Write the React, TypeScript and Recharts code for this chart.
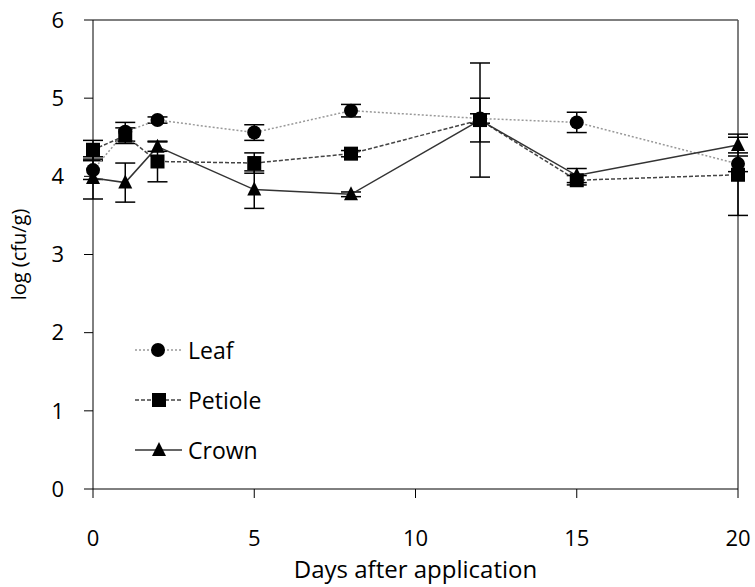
import React from "react";
import {
  LineChart,
  Line,
  XAxis,
  YAxis,
  ErrorBar,
  ReferenceLine,
} from "recharts";

const days = [0, 1, 2, 5, 8, 12, 15, 20];
const leaf = [4.08, 4.57, 4.72, 4.56, 4.84, 4.74, 4.69, 4.16];
const leafErr = [0.12, 0.12, 0.04, 0.1, 0.08, 0.06, 0.13, 0.1];
const petiole = [4.34, 4.52, 4.19, 4.17, 4.29, 4.72, 3.95, 4.02];
const petioleErr = [0.12, 0.1, 0.26, 0.13, 0.04, 0.28, 0.06, 0.52];
const crown = [3.98, 3.92, 4.38, 3.83, 3.77, 4.72, 4.01, 4.4];
const crownErr = [0.27, 0.25, 0.06, 0.24, 0.03, 0.73, 0.09, 0.1];
const xTicks = [0, 5, 10, 15, 20];
const yTicks = [0, 1, 2, 3, 4, 5, 6];

const data = days.map((d, i) => ({
  day: d,
  leaf: leaf[i],
  leafErr: leafErr[i],
  petiole: petiole[i],
  petioleErr: petioleErr[i],
  crown: crown[i],
  crownErr: crownErr[i],
}));

const FONT = "'Open Sans', 'Noto Sans', sans-serif";

const circleDot = (p: any) => (
  <circle key={`c${p.index}`} cx={p.cx} cy={p.cy} r={7} fill="#000" />
);
const squareDot = (p: any) => (
  <rect key={`s${p.index}`} x={p.cx - 7} y={p.cy - 7} width={14} height={14} fill="#000" />
);
const triangleDot = (p: any) => (
  <polygon
    key={`t${p.index}`}
    points={`${p.cx},${p.cy - 8} ${p.cx + 7},${p.cy + 6} ${p.cx - 7},${p.cy + 6}`}
    fill="#000"
  />
);

const legendItems = [
  { name: "Leaf", stroke: "#999", dash: "2 2", marker: "circle" },
  { name: "Petiole", stroke: "#444", dash: "4 2", marker: "square" },
  { name: "Crown", stroke: "#333", dash: undefined, marker: "triangle" },
];

function SeriesLegend() {
  return (
    <div style={{ position: "absolute", left: 135, top: 325, fontFamily: FONT }}>
      {legendItems.map((it) => (
        <div
          key={it.name}
          style={{ height: 50, display: "flex", alignItems: "center" }}
        >
          <svg width={53} height={20}>
            <line
              x1={0}
              y1={10}
              x2={47}
              y2={10}
              stroke={it.stroke}
              strokeWidth={1.5}
              strokeDasharray={it.dash}
            />
            {it.marker === "circle" && <circle cx={23} cy={10} r={7} fill="#000" />}
            {it.marker === "square" && <rect x={17} y={3} width={14} height={14} fill="#000" />}
            {it.marker === "triangle" && (
              <polygon points="24,2 31,16 17,16" fill="#000" />
            )}
          </svg>
          <span style={{ fontSize: 23, color: "#000", lineHeight: "50px" }}>{it.name}</span>
        </div>
      ))}
    </div>
  );
}

export default function App() {
  return (
    <div style={{ position: "absolute", left: 0, top: 0, width: 755, height: 587 }}>
      <LineChart
        width={755}
        height={587}
        data={data}
        margin={{ top: 20, right: 17, left: 5, bottom: 7 }}
      >
        <XAxis
          dataKey="day"
          type="number"
          domain={[0, 20]}
          ticks={xTicks}
          stroke="#000"
          tickSize={9}
          tickMargin={32}
          height={91}
          tick={{ fill: "#000", fontSize: 22, fontFamily: FONT }}
          label={{
            value: "Days after application",
            position: "insideBottom",
            offset: 2,
            style: { fill: "#000", fontSize: 24, fontFamily: FONT },
          }}
        />
        <YAxis
          domain={[0, 6]}
          ticks={yTicks}
          stroke="#000"
          tickSize={9}
          tickMargin={20}
          width={88}
          tick={{ fill: "#000", fontSize: 22, fontFamily: FONT }}
          label={{
            value: "log (cfu/g)",
            angle: -90,
            position: "insideLeft",
            offset: 14,
            style: { fill: "#000", fontSize: 20, fontFamily: FONT, textAnchor: "middle" },
          }}
        />
        <ReferenceLine y={6} stroke="#555" strokeWidth={1.5} />
        <ReferenceLine x={20} stroke="#555" strokeWidth={1.5} />
        <Line
          dataKey="leaf"
          stroke="#999"
          strokeWidth={1.5}
          strokeDasharray="2 2"
          dot={circleDot}
          isAnimationActive={false}
        >
          <ErrorBar dataKey="leafErr" width={10} stroke="#000" strokeWidth={1.5} direction="y" />
        </Line>
        <Line
          dataKey="petiole"
          stroke="#444"
          strokeWidth={1.5}
          strokeDasharray="4 2"
          dot={squareDot}
          isAnimationActive={false}
        >
          <ErrorBar dataKey="petioleErr" width={10} stroke="#000" strokeWidth={1.5} direction="y" />
        </Line>
        <Line
          dataKey="crown"
          stroke="#333"
          strokeWidth={1.5}
          dot={triangleDot}
          isAnimationActive={false}
        >
          <ErrorBar dataKey="crownErr" width={10} stroke="#000" strokeWidth={1.5} direction="y" />
        </Line>
      </LineChart>
      <SeriesLegend />
    </div>
  );
}
